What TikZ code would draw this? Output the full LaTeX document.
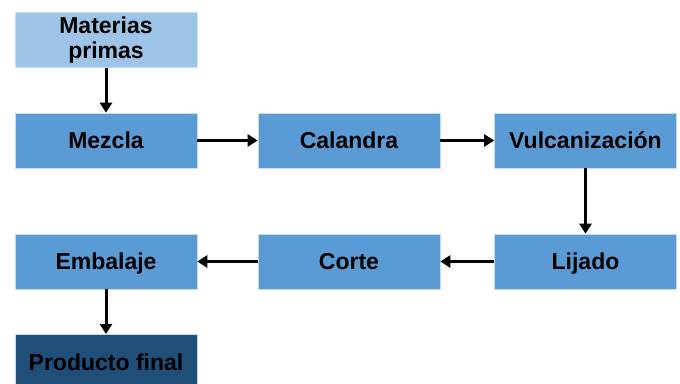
\documentclass[tikz,border=0pt]{standalone}
\usepackage{fontspec}
\setmainfont{Liberation Sans}
\usetikzlibrary{arrows.meta}
\definecolor{lightb}{HTML}{9DC3E6}
\definecolor{midb}{HTML}{5B9BD5}
\definecolor{darkb}{HTML}{1F4E79}
\begin{document}
\begin{tikzpicture}[x=1pt,y=-1pt,
  boxbase/.style={draw=lightb!60!white,line width=0.6pt,fill=midb,minimum width=182pt,minimum height=55pt,inner sep=0pt,align=center,font=\bfseries\fontsize{23}{25}\selectfont},
  stepbox/.style={boxbase,text height=20pt,text depth=3.5pt},
  conn/.style={line width=3pt,-{Triangle[length=10pt,width=12pt]}}]
\useasboundingbox (0,0) rectangle (680,383);
\node[boxbase,fill=lightb] (mp) at (106,40) {Materias\\primas};
\node[stepbox] (mez) at (106,140.5) {Mezcla};
\node[stepbox] (cal) at (349,140.5) {Calandra};
\node[stepbox] (vul) at (585.5,140.5) {Vulcanización};
\node[stepbox] (lij) at (585.5,261.5) {Lijado};
\node[stepbox] (cor) at (349,261.5) {Corte};
\node[stepbox] (emb) at (106,261.5) {Embalaje};
\node[stepbox,fill=darkb,anchor=north] (pf) at (106,334) {Producto final};
\draw[conn] (mp) -- (mez);
\draw[conn] (mez) -- (cal);
\draw[conn] (cal) -- (vul);
\draw[conn] (vul) -- (lij);
\draw[conn] (lij) -- (cor);
\draw[conn] (cor) -- (emb);
\draw[conn] (emb) -- (pf);
\end{tikzpicture}
\end{document}
